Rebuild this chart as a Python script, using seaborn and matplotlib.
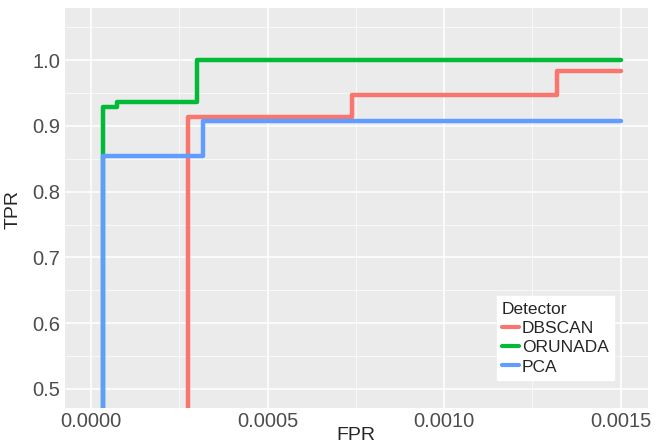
import matplotlib
matplotlib.use("Agg")
import matplotlib.pyplot as plt
from matplotlib.ticker import MultipleLocator
import seaborn as sns
import pandas as pd

# ROC steps (FPR, TPR per detector)
dbscan_fpr = [0.0, 0.000274, 0.00074, 0.00132, 0.0015]
dbscan_tpr = [0.0, 0.9138, 0.9468, 0.9833, 0.9833]
orunada_fpr = [0.0, 0.000033, 0.0000744, 0.000301, 0.0015]
orunada_tpr = [0.0, 0.929, 0.9366, 1.0, 1.0]
pca_fpr = [0.0, 0.0000348, 0.000316, 0.0015]
pca_tpr = [0.0, 0.8546, 0.907, 0.907]
detectors = ["DBSCAN", "ORUNADA", "PCA"]
colors = ["#F8766D", "#00BA38", "#619CFF"]

frames = []
for name, f, t in zip(detectors, [dbscan_fpr, orunada_fpr, pca_fpr],
                      [dbscan_tpr, orunada_tpr, pca_tpr]):
    frames.append(pd.DataFrame({"FPR": f, "TPR": t, "Detector": name}))
df = pd.concat(frames, ignore_index=True)

sns.set_theme(style="darkgrid", rc={"axes.facecolor": "#EBEBEB",
                                     "grid.color": "white"})
plt.rcParams['font.family'] = ['Liberation Sans', 'DejaVu Sans']

fig = plt.figure(figsize=(6.65, 4.44), dpi=100)
ax = fig.add_axes([0.0977, 0.0818, 0.876, 0.900])

sns.lineplot(data=df, x="FPR", y="TPR", hue="Detector", palette=colors,
             hue_order=detectors, estimator=None, drawstyle="steps-post",
             linewidth=3.2, ax=ax)

ax.set_xlim(-0.0000736, 0.001576)
ax.set_ylim(0.4716, 1.079)
ax.xaxis.set_minor_locator(MultipleLocator(0.00025))
ax.yaxis.set_minor_locator(MultipleLocator(0.05))
ax.set_xticks([0.0, 0.0005, 0.0010, 0.0015])
ax.set_xticklabels(["0.0000", "0.0005", "0.0010", "0.0015"])
ax.set_yticks([0.5, 0.6, 0.7, 0.8, 0.9, 1.0])
ax.set_yticklabels(["0.5", "0.6", "0.7", "0.8", "0.9", "1.0"])
ax.grid(which="major", color="white", linewidth=1.1)
ax.grid(which="minor", color="white", linewidth=0.5)
ax.tick_params(axis="both", which="major", length=2.5, width=0.8, color="#333333",
               labelsize=14.5, labelcolor="#4D4D4D")
ax.tick_params(axis="x", which="major", pad=0.5)
ax.tick_params(axis="y", which="major", pad=1)
ax.tick_params(axis="both", which="minor", length=0)
for s in ax.spines.values():
    s.set_visible(False)
ax.set_xlabel("FPR", fontsize=14)
ax.set_ylabel("TPR", fontsize=14)
ax.xaxis.set_label_coords(0.5, -0.048)
ax.yaxis.set_label_coords(-0.075, 0.496)

leg = ax.legend(title="Detector", loc="lower left", bbox_to_anchor=(0.741, 0.07),
                frameon=True, fontsize=12.5, title_fontsize=12.5, handlelength=1.0,
                handletextpad=0.15, borderpad=0.3, labelspacing=0.24,
                borderaxespad=0)
leg.get_frame().set_facecolor("white")
leg.get_frame().set_edgecolor("white")
leg.get_frame().set_alpha(1)
leg.get_frame().set_boxstyle("square", pad=0)
leg._legend_box.align = "left"
for line in leg.get_lines():
    line.set_linewidth(3)

fig.savefig("out.png", dpi=100)
